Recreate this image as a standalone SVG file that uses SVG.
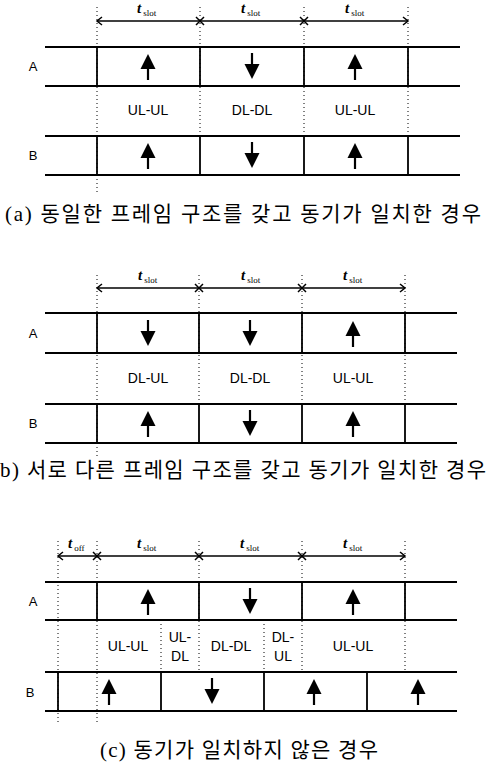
<svg xmlns="http://www.w3.org/2000/svg" xmlns:xlink="http://www.w3.org/1999/xlink" width="488" height="767" viewBox="0 0 488 767">
<style>
.row{stroke:#000;stroke-width:1.8;fill:none}
.sep{stroke:#000;stroke-width:1.8}
.dot{stroke:#000;stroke-width:1;stroke-dasharray:1 3;fill:none}
.dim{stroke:#000;stroke-width:1.3;fill:none}
.lbl{font-family:"Liberation Sans",Arial,sans-serif;font-size:14px;fill:#000;text-anchor:middle}
.rl{font-family:"Liberation Sans",Arial,sans-serif;font-size:13px;fill:#000;text-anchor:middle}
.t{font-family:"Liberation Serif","Times New Roman",serif;font-style:italic;font-weight:bold;font-size:15px;fill:#000}
.sub{font-family:"Liberation Serif","Times New Roman",serif;font-size:9px;fill:#000}
.cap{font-family:"Liberation Serif","Noto Sans CJK KR",serif;font-size:21px;fill:#000}
</style>
<defs>
<g id="up"><polygon points="0,-13 -7.5,2 7.5,2" fill="#000"/><line x1="0" y1="0" x2="0" y2="13" stroke="#000" stroke-width="2.2"/></g>
<g id="dn"><polygon points="0,13 -7.5,-2 7.5,-2" fill="#000"/><line x1="0" y1="0" x2="0" y2="-13" stroke="#000" stroke-width="2.2"/></g>
<path id="xm" d="M-4,-4 L4,4 M-4,4 L4,-4" stroke="#000" stroke-width="1.5"/>
<path id="la" d="M5,-4 L0,0 L5,4" stroke="#000" stroke-width="1.5" fill="none"/>
<path id="ra" d="M-5,-4 L0,0 L-5,4" stroke="#000" stroke-width="1.5" fill="none"/>
</defs>

<!-- ===== Panel (a) ===== -->
<g id="panel-a">
  <g id="a-guides">
    <line class="dot" x1="97" y1="7" x2="97" y2="192"/>
    <line class="dot" x1="200" y1="7" x2="200" y2="136"/>
    <line class="dot" x1="304" y1="7" x2="304" y2="136"/>
    <line class="dot" x1="408" y1="7" x2="408" y2="136"/>
  </g>
  <g id="a-rowA">
    <text class="rl" x="33" y="71">A</text>
    <line class="row" x1="45" y1="47" x2="460" y2="47"/>
    <line class="row" x1="45" y1="86" x2="460" y2="86"/>
    <line class="sep" x1="97" y1="47" x2="97" y2="86"/>
    <line class="sep" x1="200" y1="47" x2="200" y2="86"/>
    <line class="sep" x1="304" y1="47" x2="304" y2="86"/>
    <line class="sep" x1="408" y1="47" x2="408" y2="86"/>
    <use xlink:href="#up" x="148" y="67"/>
    <use xlink:href="#dn" x="252" y="66"/>
    <use xlink:href="#up" x="355" y="67"/>
  </g>
  <g id="a-labels">
    <text class="lbl" x="148" y="115">UL-UL</text>
    <text class="lbl" x="252" y="115">DL-DL</text>
    <text class="lbl" x="355" y="115">UL-UL</text>
  </g>
  <g id="a-rowB">
    <text class="rl" x="33" y="160">B</text>
    <line class="row" x1="45" y1="136" x2="460" y2="136"/>
    <line class="row" x1="45" y1="175" x2="460" y2="175"/>
    <line class="sep" x1="97" y1="136" x2="97" y2="175"/>
    <line class="sep" x1="200" y1="136" x2="200" y2="175"/>
    <line class="sep" x1="304" y1="136" x2="304" y2="175"/>
    <line class="sep" x1="408" y1="136" x2="408" y2="175"/>
    <use xlink:href="#up" x="148" y="156"/>
    <use xlink:href="#dn" x="252" y="155"/>
    <use xlink:href="#up" x="355" y="156"/>
  </g>
  <text class="cap" x="5" y="221" textLength="476" lengthAdjust="spacing">(a) 동일한 프레임 구조를 갖고 동기가 일치한 경우</text>
</g>

<!-- ===== Panel (b) ===== -->
<g id="panel-b">
  <g id="b-guides">
    <line class="dot" x1="97" y1="275" x2="97" y2="457"/>
    <line class="dot" x1="199" y1="275" x2="199" y2="404"/>
    <line class="dot" x1="302" y1="275" x2="302" y2="404"/>
    <line class="dot" x1="405" y1="275" x2="405" y2="404"/>
  </g>
  <g id="b-rowA">
    <text class="rl" x="33" y="338">A</text>
    <line class="row" x1="45" y1="313" x2="457" y2="313"/>
    <line class="row" x1="45" y1="353" x2="457" y2="353"/>
    <line class="sep" x1="97" y1="313" x2="97" y2="353"/>
    <line class="sep" x1="199" y1="313" x2="199" y2="353"/>
    <line class="sep" x1="302" y1="313" x2="302" y2="353"/>
    <line class="sep" x1="405" y1="313" x2="405" y2="353"/>
    <use xlink:href="#dn" x="148" y="333"/>
    <use xlink:href="#dn" x="250" y="333"/>
    <use xlink:href="#up" x="353" y="334"/>
  </g>
  <g id="b-labels">
    <text class="lbl" x="148" y="383">DL-UL</text>
    <text class="lbl" x="250" y="383">DL-DL</text>
    <text class="lbl" x="353" y="383">UL-UL</text>
  </g>
  <g id="b-rowB">
    <text class="rl" x="33" y="428">B</text>
    <line class="row" x1="45" y1="404" x2="457" y2="404"/>
    <line class="row" x1="45" y1="443" x2="457" y2="443"/>
    <line class="sep" x1="97" y1="404" x2="97" y2="443"/>
    <line class="sep" x1="199" y1="404" x2="199" y2="443"/>
    <line class="sep" x1="302" y1="404" x2="302" y2="443"/>
    <line class="sep" x1="405" y1="404" x2="405" y2="443"/>
    <use xlink:href="#up" x="148" y="424"/>
    <use xlink:href="#dn" x="250" y="423"/>
    <use xlink:href="#up" x="353" y="424"/>
  </g>
  <text class="cap" x="0" y="477" textLength="486" lengthAdjust="spacing">b) 서로 다른 프레임 구조를 갖고 동기가 일치한 경우</text>
</g>

<!-- ===== Panel (c) ===== -->
<g id="panel-c">
  <g id="c-guides">
    <line class="dot" x1="58" y1="541" x2="58" y2="723"/>
    <line class="dot" x1="97" y1="541" x2="97" y2="723"/>
    <line class="dot" x1="199" y1="541" x2="199" y2="672"/>
    <line class="dot" x1="302" y1="541" x2="302" y2="672"/>
    <line class="dot" x1="405" y1="541" x2="405" y2="672"/>
    <line class="dot" x1="161" y1="620" x2="161" y2="672"/>
    <line class="dot" x1="264" y1="620" x2="264" y2="672"/>
  </g>
  <g id="c-rowA">
    <text class="rl" x="33" y="606">A</text>
    <line class="row" x1="45" y1="582" x2="457" y2="582"/>
    <line class="row" x1="45" y1="620" x2="457" y2="620"/>
    <line class="sep" x1="97" y1="582" x2="97" y2="620"/>
    <line class="sep" x1="199" y1="582" x2="199" y2="620"/>
    <line class="sep" x1="302" y1="582" x2="302" y2="620"/>
    <line class="sep" x1="405" y1="582" x2="405" y2="620"/>
    <use xlink:href="#up" x="148" y="602"/>
    <use xlink:href="#dn" x="250" y="601"/>
    <use xlink:href="#up" x="353" y="602"/>
  </g>
  <g id="c-labels">
    <text class="lbl" x="128" y="651">UL-UL</text>
    <text class="lbl" x="180" y="642">UL-</text>
    <text class="lbl" x="180" y="661">DL</text>
    <text class="lbl" x="231" y="651">DL-DL</text>
    <text class="lbl" x="283" y="642">DL-</text>
    <text class="lbl" x="283" y="661">UL</text>
    <text class="lbl" x="353" y="651">UL-UL</text>
  </g>
  <g id="c-rowB">
    <text class="rl" x="30" y="697">B</text>
    <line class="row" x1="45" y1="672" x2="457" y2="672"/>
    <line class="row" x1="45" y1="711" x2="457" y2="711"/>
    <line class="sep" x1="58" y1="672" x2="58" y2="711"/>
    <line class="sep" x1="161" y1="672" x2="161" y2="711"/>
    <line class="sep" x1="264" y1="672" x2="264" y2="711"/>
    <line class="sep" x1="367" y1="672" x2="367" y2="711"/>
    <use xlink:href="#up" x="109" y="692"/>
    <use xlink:href="#dn" x="212" y="691"/>
    <use xlink:href="#up" x="314" y="692"/>
    <use xlink:href="#up" x="418" y="692"/>
  </g>
  <text class="cap" x="100" y="757" textLength="278" lengthAdjust="spacing">(c) 동기가 일치하지 않은 경우</text>
</g>

<!-- ===== Connectors: slot-duration dimension lines ===== -->
<g id="connectors">
  <g id="dim-a">
    <line class="dim" x1="97" y1="21" x2="408" y2="21"/>
    <use xlink:href="#la" x="97" y="21"/>
    <use xlink:href="#xm" x="200" y="21"/>
    <use xlink:href="#xm" x="304" y="21"/>
    <use xlink:href="#ra" x="408" y="21"/>
    <text x="137" y="13"><tspan class="t">t</tspan><tspan class="sub" dx="2" dy="3">slot</tspan></text>
    <text x="241" y="13"><tspan class="t">t</tspan><tspan class="sub" dx="2" dy="3">slot</tspan></text>
    <text x="345" y="13"><tspan class="t">t</tspan><tspan class="sub" dx="2" dy="3">slot</tspan></text>
  </g>
  <g id="dim-b">
    <line class="dim" x1="97" y1="288" x2="405" y2="288"/>
    <use xlink:href="#la" x="97" y="288"/>
    <use xlink:href="#xm" x="199" y="288"/>
    <use xlink:href="#xm" x="302" y="288"/>
    <use xlink:href="#ra" x="405" y="288"/>
    <text x="138" y="280"><tspan class="t">t</tspan><tspan class="sub" dx="2" dy="3">slot</tspan></text>
    <text x="241" y="280"><tspan class="t">t</tspan><tspan class="sub" dx="2" dy="3">slot</tspan></text>
    <text x="343" y="280"><tspan class="t">t</tspan><tspan class="sub" dx="2" dy="3">slot</tspan></text>
  </g>
  <g id="dim-c">
    <line class="dim" x1="58" y1="556" x2="405" y2="556"/>
    <use xlink:href="#la" x="58" y="556"/>
    <use xlink:href="#xm" x="97" y="556"/>
    <use xlink:href="#xm" x="199" y="556"/>
    <use xlink:href="#xm" x="302" y="556"/>
    <use xlink:href="#ra" x="405" y="556"/>
    <text x="68" y="548"><tspan class="t">t</tspan><tspan class="sub" dx="2" dy="3">off</tspan></text>
    <text x="137" y="548"><tspan class="t">t</tspan><tspan class="sub" dx="2" dy="3">slot</tspan></text>
    <text x="240" y="548"><tspan class="t">t</tspan><tspan class="sub" dx="2" dy="3">slot</tspan></text>
    <text x="343" y="548"><tspan class="t">t</tspan><tspan class="sub" dx="2" dy="3">slot</tspan></text>
  </g>
</g>
</svg>
